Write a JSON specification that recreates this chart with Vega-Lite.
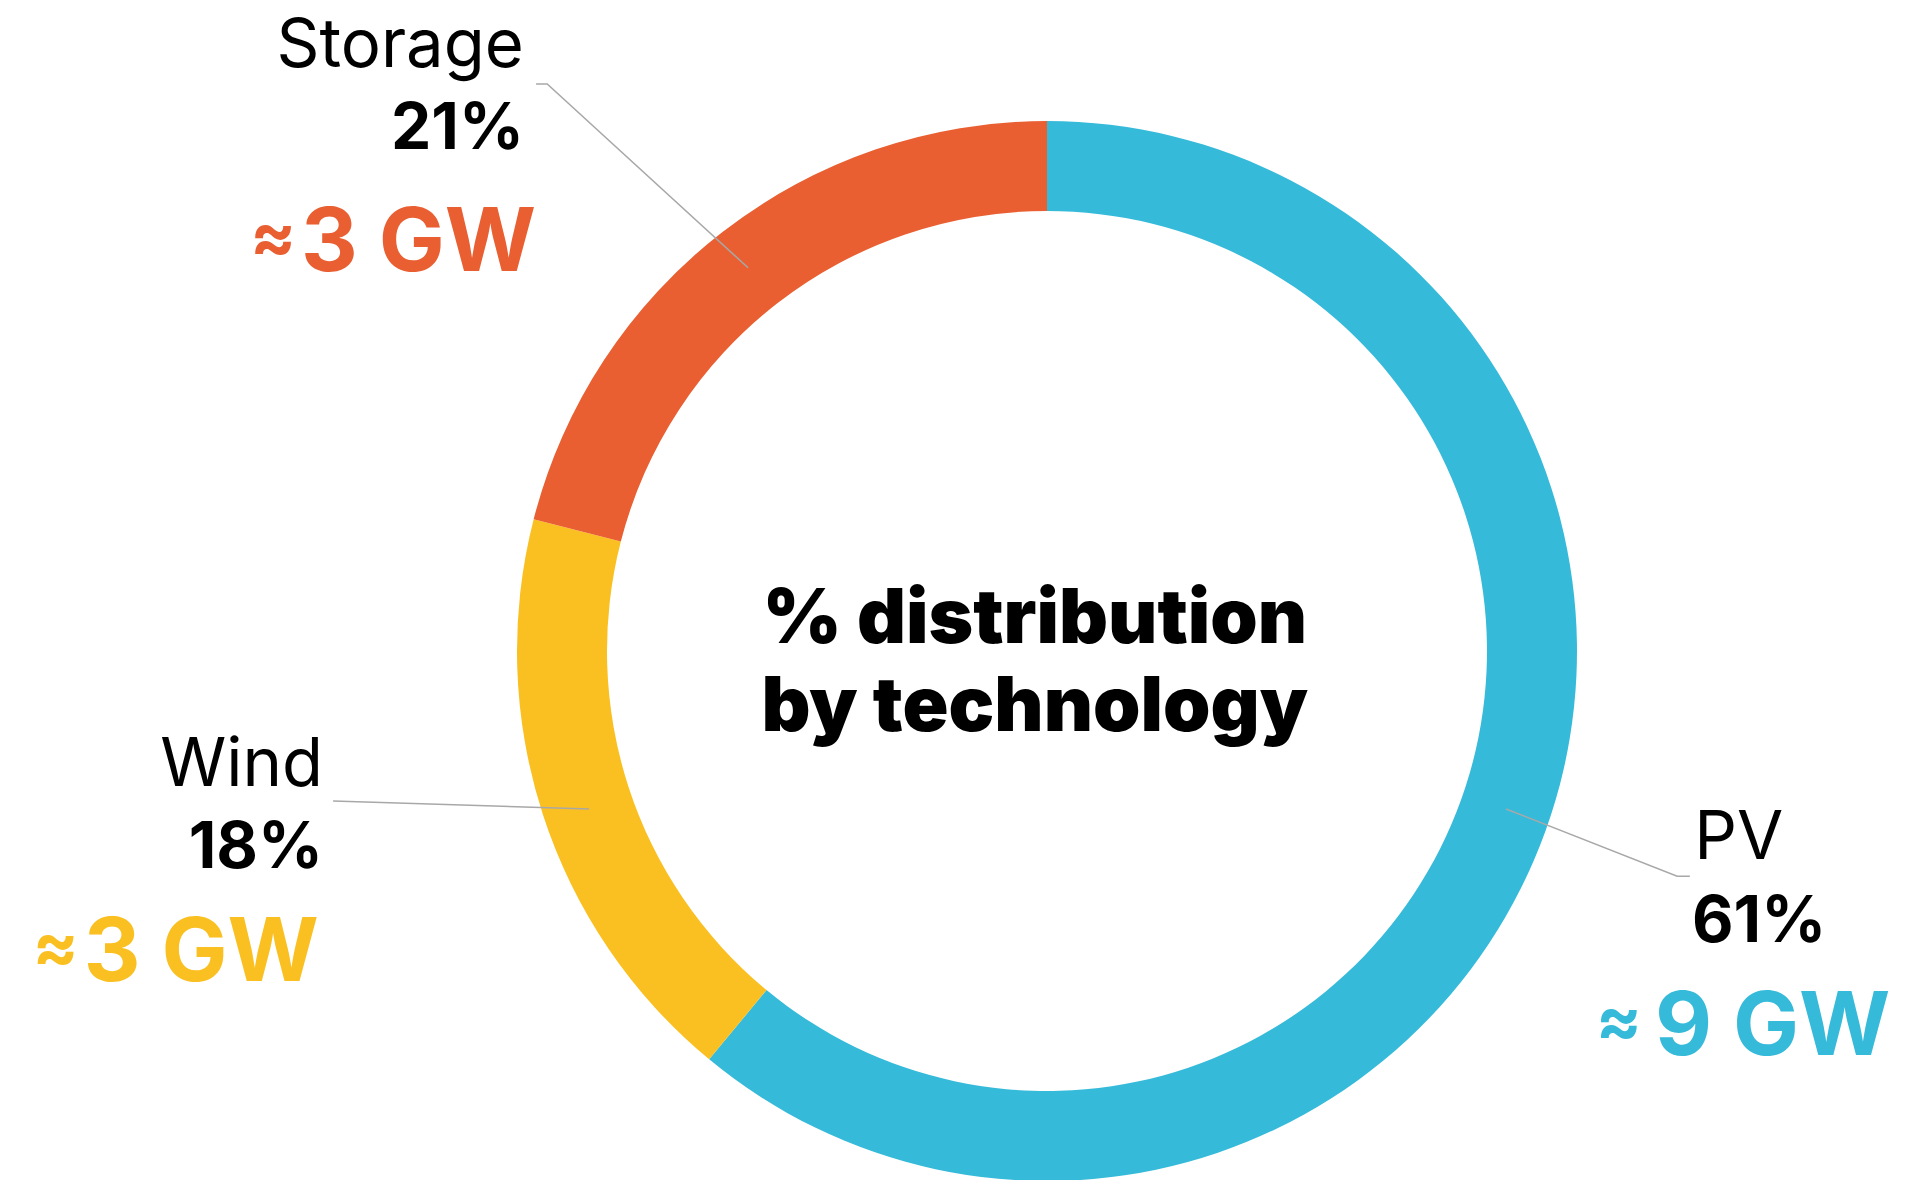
{
  "$schema": "https://vega.github.io/schema/vega-lite/v6.json",
  "autosize": "none",
  "padding": {"left": 199, "top": 121, "right": 16, "bottom": 0},
  "width": 1696,
  "height": 1060,
  "background": "white",
  "config": {"view": {"stroke": null}, "font": "Inter"},
  "datasets": {
    "shares": [
      {"tech": "PV", "share": 61, "order": 1},
      {"tech": "Wind", "share": 18, "order": 2},
      {"tech": "Storage", "share": 21, "order": 3}
    ],
    "labels": [
      {"tech": "Storage", "kind": "name", "text": "Storage", "x": -0.987, "y": 1.102},
      {"tech": "Storage", "kind": "pct", "text": "21%", "x": -0.987, "y": 0.947},
      {"tech": "Storage", "kind": "gw", "text": "3 GW", "x": -0.964, "y": 0.717},
      {"tech": "Wind", "kind": "name", "text": "Wind", "x": -1.366, "y": -0.255},
      {"tech": "Wind", "kind": "pct", "text": "18%", "x": -1.366, "y": -0.409},
      {"tech": "Wind", "kind": "gw", "text": "3 GW", "x": -1.374, "y": -0.623},
      {"tech": "PV", "kind": "name", "text": "PV", "x": 1.221, "y": -0.392},
      {"tech": "PV", "kind": "pct", "text": "61%", "x": 1.217, "y": -0.549},
      {"tech": "PV", "kind": "gw", "text": "9 GW", "x": 1.147, "y": -0.762}
    ],
    "leaders": [
      {"tech": "Storage", "seq": 1, "x": -0.964, "y": 1.07},
      {"tech": "Storage", "seq": 2, "x": -0.943, "y": 1.07},
      {"tech": "Storage", "seq": 3, "x": -0.564, "y": 0.723},
      {"tech": "Wind", "seq": 1, "x": -1.347, "y": -0.283},
      {"tech": "Wind", "seq": 2, "x": -0.864, "y": -0.298},
      {"tech": "PV", "seq": 1, "x": 0.866, "y": -0.298},
      {"tech": "PV", "seq": 2, "x": 1.189, "y": -0.425},
      {"tech": "PV", "seq": 3, "x": 1.213, "y": -0.425}
    ],
    "title": [
      {"text": "% distribution", "x": -0.023, "y": 0.015},
      {"text": "by technology", "x": -0.023, "y": -0.151}
    ]
  },
  "layer": [
    {
      "data": {"name": "shares"},
      "mark": {"type": "arc", "outerRadius": 530, "innerRadius": 440},
      "encoding": {
        "theta": {"field": "share", "type": "quantitative", "stack": true},
        "order": {"field": "order", "type": "quantitative"},
        "color": {
          "field": "tech", "type": "nominal", "legend": null,
          "scale": {"domain": ["PV", "Wind", "Storage"], "range": ["#36BADA", "#FAC022", "#E95F31"]}
        }
      }
    },
    {
      "data": {"name": "leaders"},
      "mark": {"type": "line", "color": "#A8A8A8", "strokeWidth": 1.5},
      "encoding": {
        "x": {"field": "x", "type": "quantitative", "scale": {"domain": [-1.6, 1.6]}, "axis": null},
        "y": {"field": "y", "type": "quantitative", "scale": {"domain": [-1, 1]}, "axis": null},
        "order": {"field": "seq", "type": "quantitative"},
        "detail": {"field": "tech", "type": "nominal"}
      }
    },
    {
      "data": {"name": "labels"},
      "transform": [{"filter": "datum.kind === 'name' && datum.tech !== 'PV'"}],
      "mark": {"type": "text", "align": "right", "baseline": "alphabetic", "fontSize": 67, "fontWeight": 400, "color": "#000000"},
      "encoding": {
        "x": {"field": "x", "type": "quantitative", "scale": {"domain": [-1.6, 1.6]}, "axis": null},
        "y": {"field": "y", "type": "quantitative", "scale": {"domain": [-1, 1]}, "axis": null},
        "text": {"field": "text"}
      }
    },
    {
      "data": {"name": "labels"},
      "transform": [{"filter": "datum.kind === 'name' && datum.tech === 'PV'"}],
      "mark": {"type": "text", "align": "left", "baseline": "alphabetic", "fontSize": 67, "fontWeight": 400, "color": "#000000"},
      "encoding": {
        "x": {"field": "x", "type": "quantitative", "scale": {"domain": [-1.6, 1.6]}, "axis": null},
        "y": {"field": "y", "type": "quantitative", "scale": {"domain": [-1, 1]}, "axis": null},
        "text": {"field": "text"}
      }
    },
    {
      "data": {"name": "labels"},
      "transform": [{"filter": "datum.kind === 'pct' && datum.tech !== 'PV'"}],
      "mark": {"type": "text", "align": "right", "baseline": "alphabetic", "fontSize": 64, "fontWeight": 700, "color": "#000000"},
      "encoding": {
        "x": {"field": "x", "type": "quantitative", "scale": {"domain": [-1.6, 1.6]}, "axis": null},
        "y": {"field": "y", "type": "quantitative", "scale": {"domain": [-1, 1]}, "axis": null},
        "text": {"field": "text"}
      }
    },
    {
      "data": {"name": "labels"},
      "transform": [{"filter": "datum.kind === 'pct' && datum.tech === 'PV'"}],
      "mark": {"type": "text", "align": "left", "baseline": "alphabetic", "fontSize": 64, "fontWeight": 700, "color": "#000000"},
      "encoding": {
        "x": {"field": "x", "type": "quantitative", "scale": {"domain": [-1.6, 1.6]}, "axis": null},
        "y": {"field": "y", "type": "quantitative", "scale": {"domain": [-1, 1]}, "axis": null},
        "text": {"field": "text"}
      }
    },
    {
      "data": {"name": "labels"},
      "transform": [{"filter": "datum.kind === 'gw' && datum.tech !== 'PV'"}],
      "mark": {"type": "text", "align": "right", "baseline": "alphabetic", "fontSize": 88, "fontWeight": 700},
      "encoding": {
        "x": {"field": "x", "type": "quantitative", "scale": {"domain": [-1.6, 1.6]}, "axis": null},
        "y": {"field": "y", "type": "quantitative", "scale": {"domain": [-1, 1]}, "axis": null},
        "text": {"field": "text"},
        "color": {"field": "tech", "type": "nominal", "legend": null}
      }
    },
    {
      "data": {"name": "labels"},
      "transform": [{"filter": "datum.kind === 'gw' && datum.tech !== 'PV'"}],
      "mark": {"type": "text", "text": "≈", "align": "right", "baseline": "alphabetic", "fontSize": 68, "fontWeight": 700, "dx": -240, "dy": -11},
      "encoding": {
        "x": {"field": "x", "type": "quantitative", "scale": {"domain": [-1.6, 1.6]}, "axis": null},
        "y": {"field": "y", "type": "quantitative", "scale": {"domain": [-1, 1]}, "axis": null},
        "color": {"field": "tech", "type": "nominal", "legend": null}
      }
    },
    {
      "data": {"name": "labels"},
      "transform": [{"filter": "datum.kind === 'gw' && datum.tech === 'PV'"}],
      "mark": {"type": "text", "align": "left", "baseline": "alphabetic", "fontSize": 88, "fontWeight": 700},
      "encoding": {
        "x": {"field": "x", "type": "quantitative", "scale": {"domain": [-1.6, 1.6]}, "axis": null},
        "y": {"field": "y", "type": "quantitative", "scale": {"domain": [-1, 1]}, "axis": null},
        "text": {"field": "text"},
        "color": {"field": "tech", "type": "nominal", "legend": null}
      }
    },
    {
      "data": {"name": "labels"},
      "transform": [{"filter": "datum.kind === 'gw' && datum.tech === 'PV'"}],
      "mark": {"type": "text", "text": "≈", "align": "right", "baseline": "alphabetic", "fontSize": 68, "fontWeight": 700, "dx": -13, "dy": -11},
      "encoding": {
        "x": {"field": "x", "type": "quantitative", "scale": {"domain": [-1.6, 1.6]}, "axis": null},
        "y": {"field": "y", "type": "quantitative", "scale": {"domain": [-1, 1]}, "axis": null},
        "color": {"field": "tech", "type": "nominal", "legend": null}
      }
    },
    {
      "data": {"name": "title"},
      "mark": {"type": "text", "align": "center", "baseline": "alphabetic", "fontSize": 76, "fontWeight": 900, "color": "#000000"},
      "encoding": {
        "x": {"field": "x", "type": "quantitative", "scale": {"domain": [-1.6, 1.6]}, "axis": null},
        "y": {"field": "y", "type": "quantitative", "scale": {"domain": [-1, 1]}, "axis": null},
        "text": {"field": "text"}
      }
    }
  ]
}
